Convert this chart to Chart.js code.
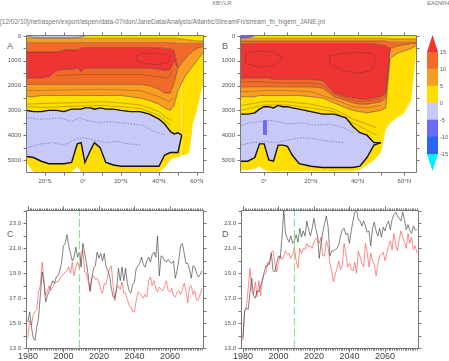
<!DOCTYPE html>
<html>
<head>
<meta charset="utf-8">
<script src="https://cdn.jsdelivr.net/npm/chart.js@4.4.0/dist/chart.umd.min.js"></script>
<style>
  html, body { margin: 0; padding: 0; background: #fff; width: 449px; height: 361px; overflow: hidden; }
  body { position: relative; font-family: 'Liberation Sans', Arial, sans-serif; }
  canvas { position: absolute; }
  .t { position: absolute; color: #777; white-space: nowrap; line-height: 1; }
  .p { position: absolute; color: #666; font-size: 9px; line-height: 1; }
</style>
</head>
<body>
<div class="t" style="left:212px;top:0px;font-size:6px">XBYLR</div>
<div class="t" style="left:427px;top:0px;font-size:6px">EADWH</div>
<div class="t" style="left:0px;top:19px;font-size:6.5px">[12/02/10]/net/aspen/export/aspen/data-07/don/JaneData/Analysis/Atlantic/StreamFn/stream_fn_higem_JANE.jnl</div>
<div class="p" style="left:7px;top:42px">A</div>
<div class="p" style="left:222px;top:42px">B</div>
<div class="p" style="left:7px;top:230px">C</div>
<div class="p" style="left:222px;top:230px">D</div>

<canvas id="chartA" width="212" height="166" style="left:0px;top:26px"></canvas>
<canvas id="chartB" width="212" height="166" style="left:212px;top:26px"></canvas>
<canvas id="colorbar" width="29" height="160" style="left:420px;top:26px"></canvas>
<canvas id="chartC" width="212" height="163" style="left:0px;top:198px"></canvas>
<canvas id="chartD" width="212" height="163" style="left:212px;top:198px"></canvas>

<script>
// ---- colour levels (Sv) ----
const levels = [-15, -10, -5, 0, 5, 10, 15];
const levelColors = ['#2b66f2', '#6a6af6', '#c9c9f9', '#ffde00', '#f99d22', '#f26a2a'];
const overColor = '#ee3533';
const underColor = '#00f0ff';

// ---- panel A: depth (m) of each contour boundary along latitude ----
const latA = [-30, -26, -22, -18, -14, -10, -6, -3, -1, 1, 4, 6, 9, 12, 16, 20, 25, 30, 35, 40, 43, 46, 48, 50, 52, 54, 56, 58, 60, 62, 64];
const surfNegA = [0, 60, 70, 70, 70, 70, 70, 60, 40, 0, 0, 0, 0, 0, 0, 0, 0, 0, 0, 0, 0, 0, 0, 0, 0, 0, 0, 0, 0, 0, 0];
const surfYelA = [90, 90, 90, 90, 90, 90, 90, 90, 90, 90, 90, 90, 90, 90, 90, 90, 90, 90, 90, 90, 90, 90, 90, 100, 120, 140, 160, 180, 200, 200, 200];
const orangeTopA = [260, 260, 260, 260, 260, 260, 260, 260, 260, 260, 260, 260, 260, 260, 260, 260, 260, 260, 260, 260, 260, 270, 280, 300, 300, 300, 300, 300, 300, 300, 300];
const redTopA = [650, 650, 650, 650, 650, 560, 560, 560, 480, 460, 460, 460, 460, 460, 460, 460, 460, 460, 460, 480, 500, 520, 600, 1300, 1100, 900, 750, 600, 500, 450, 400];
const redBotA = [1700, 1700, 1700, 1650, 1400, 1350, 1350, 1300, 1450, 1300, 1300, 1300, 1300, 1300, 1300, 1300, 1300, 1300, 1300, 1350, 1400, 1350, 1000, 1300, 1100, 900, 750, 600, 500, 450, 400];
const c10A = [1950, 1950, 1950, 1950, 1950, 1950, 1950, 1950, 1950, 1950, 1950, 1950, 1950, 1950, 1950, 1950, 1950, 1950, 2000, 2150, 2300, 2300, 1900, 1300, 1100, 900, 750, 600, 500, 450, 400];
const c5A = [2450, 2450, 2400, 2400, 2400, 2400, 2400, 2400, 2400, 2400, 2400, 2400, 2400, 2400, 2400, 2400, 2450, 2500, 2600, 2750, 2900, 3000, 2800, 2200, 1900, 1600, 1400, 1200, 1000, 800, 600];
const c0A = [3000, 3050, 3050, 3000, 3000, 3050, 2950, 2950, 2950, 2900, 2900, 2950, 2900, 2950, 2950, 3000, 3050, 3050, 3150, 3350, 3550, 3850, 3950, 3900, 4000, 4000, 4000, 3500, 3000, 2300, 1800];
const negBotA = [4850, 4900, 5050, 5150, 5150, 5150, 5100, 4350, 4300, 5100, 4600, 4300, 4500, 5100, 5200, 5250, 5250, 5250, 5250, 5250, 4800, 4700, 4700, 4700, 4000, 4000, 4000, 3500, 3000, 2300, 1800];
const floorA = [5100, 5500, 5500, 5500, 5500, 5500, 5500, 5250, 5500, 5500, 5500, 5500, 5500, 5500, 5500, 5500, 5500, 5500, 5500, 5500, 5300, 5000, 4900, 4900, 4800, 4800, 4700, 3500, 3000, 2300, 1800];
// thin interior contours (lat, depth)
const inLatA = [
  [-30, -20, -10, 0, 10, 20, 30, 35, 40, 44, 47],
  [-30, -10, 10, 30, 40, 45, 48],
  [-14, 0, 10, 20, 30, 40, 45, 47],
  [28, 32, 38, 44, 46, 44, 38, 32, 28, 28],
  [-30, -20, -10, 0, 10, 20, 30, 40, 46]
];
const inDepA = [
  [2750, 2720, 2700, 2680, 2650, 2700, 2780, 2900, 3050, 3300, 3400],
  [2200, 2180, 2150, 2200, 2450, 2650, 2500],
  [1600, 1550, 1550, 1550, 1550, 1650, 1700, 1400],
  [800, 700, 700, 750, 900, 1100, 1150, 1100, 1000, 800],
  [2850, 2880, 2850, 2820, 2800, 2850, 2920, 3200, 3600]
];
const dotLatA = [[-29, -24, -18, -12, -6, -2, 2, 8, 14, 20, 26, 32, 36, 40, 43], [-29, -22, -16, -10, -5, 0, 6, 12, 18, 24, 30]];
const dotDepA = [[3300, 3350, 3350, 3300, 3450, 3300, 3400, 3500, 3450, 3500, 3550, 3600, 3800, 3900, 4000], [4500, 4350, 4300, 4400, 4200, 4100, 4200, 4300, 4250, 4350, 4400]];

// ---- panel B ----
const latB = [-10, -7, -4, -2, 0, 2, 4, 6, 8, 10, 12, 15, 20, 25, 30, 35, 38, 41, 44, 47, 50, 52, 54, 57, 60, 63, 65];
const surfNegB = [70, 60, 0, 0, 0, 0, 0, 0, 0, 0, 0, 0, 0, 0, 0, 0, 0, 0, 0, 0, 0, 0, 0, 0, 0, 0, 0];
const surfYelB = [90, 90, 90, 90, 90, 90, 90, 90, 90, 90, 90, 90, 90, 90, 90, 90, 90, 90, 90, 90, 90, 100, 120, 120, 120, 120, 120];
const orangeTopB = [200, 200, 200, 200, 200, 200, 200, 200, 200, 200, 200, 200, 200, 200, 200, 200, 200, 200, 200, 200, 200, 200, 250, 250, 250, 250, 250];
const redTopB = [320, 300, 300, 300, 300, 300, 300, 300, 300, 300, 300, 300, 300, 300, 300, 300, 300, 300, 300, 320, 350, 400, 500, 400, 350, 300, 300];
const redBotB = [1700, 1700, 1700, 1700, 1700, 1700, 1750, 1750, 1750, 1750, 1750, 1750, 1750, 1800, 2300, 2450, 2500, 2550, 2550, 2500, 2450, 2300, 500, 400, 350, 300, 300];
const c10B = [2050, 2050, 2050, 2050, 2050, 2050, 2050, 2050, 2050, 2050, 2050, 2050, 2050, 2100, 2450, 2600, 2700, 2750, 2750, 2700, 2650, 2500, 500, 400, 350, 300, 300];
const c5B = [2450, 2450, 2450, 2400, 2400, 2400, 2400, 2400, 2400, 2400, 2400, 2400, 2450, 2500, 2700, 2900, 3000, 3050, 3100, 3050, 3000, 2900, 900, 700, 600, 500, 400];
const c0B = [3150, 3150, 3100, 2950, 2850, 2850, 2900, 2800, 2850, 2850, 2900, 2950, 3050, 3150, 3150, 3300, 3650, 3900, 4000, 4300, 4300, 3700, 3400, 3200, 3000, 2500, 700];
const negBotB = [5050, 5050, 4900, 4350, 4350, 5000, 5050, 4400, 4400, 4450, 4800, 5150, 5250, 5300, 5300, 5300, 5300, 5250, 4900, 4400, 4300, 3700, 3400, 3200, 3000, 2500, 700];
const floorB = [5400, 5400, 5350, 5250, 5400, 5450, 5450, 5450, 5450, 5450, 5450, 5450, 5450, 5450, 5450, 5450, 5450, 5400, 5200, 5000, 4700, 3800, 3500, 3300, 3100, 2600, 700];
const inLatB = [
  [-10, 0, 10, 20, 30, 38, 44, 48],
  [-10, 0, 10, 20, 30, 38, 44, 50],
  [-10, 0, 10, 20, 25, 30, 40, 50],
  [-8, -2, 4, 8, 4, -2, -8, -8],
  [28, 34, 40, 46, 48, 46, 40, 34, 28, 28],
  [-10, 0, 10, 20, 30, 38, 44, 48]
];
const inDepB = [
  [2800, 2650, 2650, 2750, 2950, 3350, 3550, 3700],
  [2250, 2200, 2200, 2250, 2550, 2850, 2900, 2800],
  [1850, 1850, 1900, 1900, 1950, 2350, 2650, 2550],
  [700, 600, 650, 900, 1200, 1250, 1100, 700],
  [800, 700, 650, 700, 1000, 1400, 1500, 1400, 1100, 800],
  [3000, 2780, 2780, 2900, 3050, 3500, 3800, 4000]
];
const dotLatB = [[-10, -6, -2, 2, 6, 10, 16, 22, 28, 34, 38], [-10, -5, 0, 5, 10, 16, 22, 28, 34]];
const dotDepB = [[3600, 3500, 3450, 3400, 3450, 3550, 3500, 3600, 3550, 3700, 3900], [4400, 4300, 4250, 4300, 4200, 4100, 4150, 4250, 4300]];
const blueLatB = [-0.5, 1.2];
const blueTopB = [3400, 3400];
const blueBotB = [3990, 3990];

// ---- panels C and D: yearly series ----
const years = Array.from({ length: 99 }, (_, i) => 1980 + i);
const markYear = 2009;
const blackC = [
  15.1, 15.9, 14.7, 13.8, 13.6, 14.7, 15.4, 17.2, 19.1, 18.2,
  16.7, 17.2, 17.6, 18.0, 18.4, 18.2, 18.7, 18.8, 19.2, 19.9,
  21.2, 21.4, 22.1, 21.2, 20.6, 20.0, 20.3, 21.1, 20.3, 20.7,
  19.5, 21.4, 20.6, 19.8, 18.8, 17.6, 18.6, 19.4, 19.6, 20.7,
  20.2, 20.6, 20.0, 20.6, 19.5, 19.2, 18.8, 17.8, 17.1, 17.0,
  17.8, 19.4, 18.4, 19.5, 18.4, 19.4, 18.2, 17.6, 17.4, 18.1,
  18.3, 19.4, 19.6, 19.8, 20.3, 19.7, 19.5, 20.0, 20.3, 19.9,
  20.5, 20.7, 20.3, 22.0, 18.8, 20.4, 20.3, 20.0, 19.9, 20.1,
  19.9, 19.8, 20.0, 18.6, 19.2, 20.1, 21.2, 21.4, 20.6, 19.8,
  19.8, 19.3, 18.6, 19.6, 19.5, 19.0, 18.7, 18.9, 19.2
];
const redC = [
  13.8, 15.2, 14.8, 15.7, 15.9, 16.1, 17.5, 18.0, 19.9, 18.6,
  17.2, 17.6, 18.0, 17.6, 17.9, 18.2, 18.3, 18.3, 18.6, 18.8,
  18.9, 19.1, 19.2, 19.5, 19.0, 19.9, 18.8, 19.5, 19.9, 19.3,
  20.7, 20.8, 19.1, 19.0, 18.3, 17.5, 18.6, 18.8, 18.5, 18.6,
  18.3, 17.7, 17.4, 18.2, 18.1, 18.8, 19.4, 19.6, 18.0, 16.8,
  17.8, 18.0, 17.7, 18.3, 17.4, 17.4, 16.9, 16.4, 16.3, 15.9,
  15.9, 16.8, 17.5, 17.4, 17.2, 17.0, 17.3, 17.1, 18.4, 18.7,
  18.0, 18.4, 17.8, 17.5, 17.9, 17.7, 17.6, 18.0, 18.4, 17.6,
  17.5, 17.8, 17.2, 17.1, 17.5, 17.6, 17.3, 17.7, 18.2, 17.6,
  16.6, 17.9, 18.0, 17.3, 17.6, 16.8, 16.9, 17.3, 17.8
];
const blackD = [
  13.8, 16.0, 16.2, 16.1, 17.5, 18.6, 17.2, 17.0, 17.6, 17.5,
  18.0, 18.4, 19.1, 19.6, 19.6, 19.9, 20.6, 19.2, 19.1, 19.8,
  20.4, 20.2, 21.8, 24.1, 22.2, 21.8, 21.5, 22.0, 21.4, 21.6,
  22.1, 21.5, 22.6, 21.9, 22.4, 22.0, 23.2, 22.5, 22.0, 22.6,
  23.4, 22.6, 22.0, 20.2, 21.4, 22.3, 23.0, 23.6, 22.7, 20.4,
  20.8, 20.8, 20.9, 21.0, 21.3, 22.0, 22.5, 22.6, 22.1, 22.2,
  21.4, 22.4, 23.2, 23.9, 24.1, 23.3, 23.2, 22.8, 23.2, 22.8,
  22.3, 22.4, 21.2, 22.6, 23.1, 22.4, 22.0, 22.6, 21.9, 22.7,
  22.4, 22.9, 23.2, 22.5, 23.3, 23.7, 23.9, 23.6, 23.4, 23.2,
  23.9, 23.3, 22.5, 22.9, 22.4, 22.2, 22.8, 22.5, 22.5
];
const redD = [
  13.6, 16.0, 16.3, 17.8, 19.4, 17.6, 17.3, 18.3, 17.1, 18.4,
  17.2, 18.6, 18.9, 19.0, 19.9, 19.7, 20.7, 20.8, 19.8, 19.1,
  19.8, 20.4, 20.1, 20.4, 20.8, 20.5, 20.6, 20.2, 20.5, 21.1,
  20.0, 19.4, 21.0, 20.6, 21.0, 20.9, 21.4, 21.1, 21.2, 21.0,
  21.5, 21.8, 21.7, 21.4, 21.9, 20.4, 20.4, 21.6, 21.1, 19.8,
  19.2, 18.3, 18.9, 19.4, 20.0, 19.3, 19.7, 21.4, 20.6, 19.5,
  19.8, 19.3, 19.2, 19.9, 19.0, 20.8, 20.3, 19.8, 19.5, 21.4,
  20.7, 19.5, 20.6, 20.0, 19.7, 18.8, 19.7, 20.4, 20.5, 20.7,
  20.0, 20.6, 21.1, 21.6, 20.9, 22.2, 21.3, 20.8, 21.7, 22.4,
  21.9, 21.5, 21.0, 22.2, 21.4, 21.9, 20.9, 21.2, 20.6
];
const yTicksCD = [13, 15, 17, 19, 21, 23];
const xTicksCD = [1980, 2000, 2020, 2040, 2060];
const depthTicks = [0, 1000, 2000, 3000, 4000, 5000];

const FONT = "'Liberation Sans', Arial, sans-serif";
const LINE = 'rgba(85,50,25,0.7)';

function tickValues(scale, t) {
  const out = [];
  const n0 = Math.ceil((scale.min - t.base) / t.step);
  const n1 = Math.floor((scale.max - t.base) / t.step);
  for (let n = n0; n <= n1; n++) out.push(t.base + n * t.step);
  return out;
}

// frame box and outward tick marks drawn from the chart's scales
const frameTicks = {
  id: 'frameTicks',
  afterDatasetsDraw(chart, args, o) {
    const { ctx, chartArea: a } = chart;
    const xs = chart.scales.x, ys = chart.scales.y;
    const L = Math.round(a.left) - 0.5, R = Math.round(a.right) + 0.5;
    const T = Math.round(a.top) - 0.5, B = Math.round(a.bottom) + 0.5;
    ctx.save();
    ctx.strokeStyle = o.color || '#777';
    ctx.lineWidth = 1;
    ctx.beginPath();
    ctx.rect(L, T, R - L, B - T);
    (o.x || []).forEach(t => {
      tickValues(xs, t).forEach(v => {
        const p = Math.round(xs.getPixelForValue(v)) + 0.5;
        ctx.moveTo(p, T); ctx.lineTo(p, T - t.len);
        ctx.moveTo(p, B); ctx.lineTo(p, B + t.len);
      });
    });
    (o.y || []).forEach(t => {
      tickValues(ys, t).forEach(v => {
        const p = Math.round(ys.getPixelForValue(v)) + 0.5;
        ctx.moveTo(L, p); ctx.lineTo(L - t.len, p);
        ctx.moveTo(R, p); ctx.lineTo(R + t.len, p);
      });
    });
    ctx.stroke();
    ctx.restore();
  }
};

function latLabel(v) {
  if (v === 0) return '0°';
  return v < 0 ? (-v) + '°S' : v + '°N';
}

function flat(a, b, i) { return a[i] === b[i]; }

function contourChart(id, lats, bounds, extras, xmin, xmax, xTicks, yWidth, padRight) {
  const datasets = bounds.map((b, k) => ({
    data: lats.map((x, i) => ({ x, y: b.vals[i] })),
    fill: k === 0 ? false : '-1',
    backgroundColor: b.fill || 'transparent',
    borderColor: b.line || 'transparent',
    borderWidth: b.width || 0,
    pointRadius: 0,
    tension: 0,
    segment: {
      borderColor: ctx => {
        const i0 = ctx.p0DataIndex, i1 = ctx.p1DataIndex;
        const above = k > 0 && flat(b.vals, bounds[k - 1].vals, i0) && flat(b.vals, bounds[k - 1].vals, i1);
        const below = b.hideFlatBelow && flat(b.vals, bounds[k + 1].vals, i0) && flat(b.vals, bounds[k + 1].vals, i1);
        return (above || below) ? 'rgba(0,0,0,0)' : undefined;
      }
    }
  }));
  // extra contour lines are drawn on top of the filled bands
  extras.forEach(e => datasets.push(Object.assign({ pointRadius: 0, tension: 0, fill: false, order: -1 }, e)));
  return new Chart(document.getElementById(id), {
    type: 'line',
    data: { datasets },
    options: {
      responsive: false,
      animation: false,
      devicePixelRatio: 1,
      layout: { padding: { top: 10, right: padRight, left: 0, bottom: 0 } },
      plugins: {
        legend: { display: false },
        tooltip: { enabled: false },
        frameTicks: { color: '#777', x: [{ step: 10, base: 0, len: 3 }], y: [{ step: 500, base: 0, len: 3 }] }
      },
      scales: {
        x: {
          type: 'linear', min: xmin, max: xmax,
          grid: { display: false, drawTicks: false }, border: { display: false },
          afterBuildTicks: s => { s.ticks = xTicks.map(v => ({ value: v })); },
          afterFit: s => { s.height = 20; },
          ticks: { padding: 6, autoSkip: false, maxRotation: 0, color: '#555', font: { size: 6, family: FONT }, callback: v => latLabel(v) }
        },
        y: {
          type: 'linear', reverse: true, min: 0, max: 5484,
          grid: { display: false, drawTicks: false }, border: { display: false },
          afterBuildTicks: s => { s.ticks = depthTicks.map(v => ({ value: v })); },
          afterFit: s => { s.width = yWidth; },
          ticks: { padding: 6, autoSkip: false, color: '#555', font: { size: 6, family: FONT }, callback: v => String(v) }
        }
      }
    },
    plugins: [frameTicks]
  });
}

function bandSet(surfNeg, surfYel, orangeTop, redTop, redBot, c10, c5, c0, negBot, floor, surfColor) {
  return [
    { vals: surfNeg.map(() => 0) },
    { vals: surfNeg, fill: surfColor, line: 'rgba(50,50,90,0.8)', width: 0.7 },
    { vals: surfYel, fill: levelColors[3], line: LINE, width: 0.6 },
    { vals: orangeTop, fill: levelColors[4], line: LINE, width: 0.6 },
    { vals: redTop, fill: levelColors[5], line: LINE, width: 0.7 },
    { vals: redBot, fill: overColor, line: LINE, width: 0.7 },
    { vals: c10, fill: levelColors[5], line: LINE, width: 0.7 },
    { vals: c5, fill: levelColors[4], line: LINE, width: 0.7 },
    { vals: c0, fill: levelColors[3], line: '#111', width: 1.4, hideFlatBelow: true },
    { vals: negBot, fill: levelColors[2], line: '#111', width: 1.4 },
    { vals: floor, fill: levelColors[3] }
  ];
}

function thin(lats, deps) {
  return { data: lats.map((x, i) => ({ x, y: deps[i] })), borderColor: 'rgba(85,50,25,0.55)', borderWidth: 0.6 };
}
function dotted(lats, deps) {
  return { data: lats.map((x, i) => ({ x, y: deps[i] })), borderColor: 'rgba(95,95,140,0.85)', borderWidth: 0.7, borderDash: [1.5, 1.5] };
}

contourChart('chartA', latA,
  bandSet(surfNegA, surfYelA, orangeTopA, redTopA, redBotA, c10A, c5A, c0A, negBotA, floorA, levelColors[2]),
  inLatA.map((l, i) => thin(l, inDepA[i])).concat(dotLatA.map((l, i) => dotted(l, dotDepA[i]))),
  -29.5, 63.2, [-20, 0, 20, 40, 60], 27, 9);

const blueExtras = [
  { data: blueLatB.map((x, i) => ({ x, y: blueTopB[i] })), borderWidth: 0 },
  { data: blueLatB.map((x, i) => ({ x, y: blueBotB[i] })), borderWidth: 0, fill: '-1', backgroundColor: levelColors[1] }
];
contourChart('chartB', latB,
  bandSet(surfNegB, surfYelB, orangeTopB, redTopB, redBotB, c10B, c5B, c0B, negBotB, floorB, levelColors[1]),
  inLatB.map((l, i) => thin(l, inDepB[i])).concat(dotLatB.map((l, i) => dotted(l, dotDepB[i]))).concat(blueExtras),
  -9.9, 65, [0, 20, 40, 60], 29, 8);

// ---- colour bar ----
const arrowPlugin = {
  id: 'arrows',
  afterDatasetsDraw(chart) {
    const { ctx, chartArea: a } = chart;
    const ys = chart.scales.y;
    const mid = (a.left + a.right) / 2;
    ctx.save();
    ctx.fillStyle = overColor;
    ctx.beginPath();
    ctx.moveTo(a.left, ys.getPixelForValue(15));
    ctx.lineTo(a.right, ys.getPixelForValue(15));
    ctx.lineTo(mid, ys.getPixelForValue(20));
    ctx.closePath(); ctx.fill();
    ctx.fillStyle = underColor;
    ctx.beginPath();
    ctx.moveTo(a.left, ys.getPixelForValue(-15));
    ctx.lineTo(a.right, ys.getPixelForValue(-15));
    ctx.lineTo(mid, ys.getPixelForValue(-20));
    ctx.closePath(); ctx.fill();
    ctx.restore();
  }
};
new Chart(document.getElementById('colorbar'), {
  type: 'bar',
  data: {
    labels: [''],
    datasets: levelColors.map((c, i) => ({
      data: [[levels[i], levels[i + 1]]], backgroundColor: c, borderWidth: 0,
      barPercentage: 1, categoryPercentage: 1
    }))
  },
  options: {
    responsive: false, animation: false, devicePixelRatio: 1,
    layout: { padding: { top: 9, bottom: 15, left: 7, right: 0 } },
    plugins: { legend: { display: false }, tooltip: { enabled: false } },
    scales: {
      x: { stacked: true, display: false },
      y: {
        min: -20, max: 20, position: 'right',
        grid: { display: false, drawTicks: false }, border: { display: false },
        afterBuildTicks: s => { s.ticks = levels.map(v => ({ value: v })); },
        afterFit: s => { s.width = 11; },
        ticks: { padding: 2, color: '#555', font: { size: 5.5, family: FONT } }
      }
    }
  },
  plugins: [arrowPlugin]
});

// ---- time series ----
function seriesChart(id, black, red, yWidth, padRight) {
  return new Chart(document.getElementById(id), {
    type: 'line',
    data: {
      datasets: [
        { data: [{ x: markYear, y: 13 }, { x: markYear, y: 24 }], borderColor: '#86dd86', borderWidth: 1, borderDash: [8, 3], pointRadius: 0 },
        { data: years.map((x, i) => ({ x, y: black[i] })), borderColor: 'rgba(70,70,70,0.85)', borderWidth: 0.8, pointRadius: 0, tension: 0 },
        { data: years.map((x, i) => ({ x, y: red[i] })), borderColor: 'rgba(255,85,85,0.85)', borderWidth: 0.8, pointRadius: 0, tension: 0 }
      ]
    },
    options: {
      responsive: false, animation: false, devicePixelRatio: 1,
      layout: { padding: { top: 13, right: padRight, left: 0, bottom: 0 } },
      plugins: {
        legend: { display: false }, tooltip: { enabled: false },
        frameTicks: {
          color: '#777',
          x: [{ step: 1, base: 1980, len: 2 }, { step: 20, base: 1980, len: 4 }],
          y: [{ step: 1, base: 13, len: 3 }]
        }
      },
      scales: {
        x: {
          type: 'linear', min: 1979.5, max: 2078.6,
          grid: { display: false, drawTicks: false }, border: { display: false },
          afterBuildTicks: s => { s.ticks = xTicksCD.map(v => ({ value: v })); },
          afterFit: s => { s.height = 13; },
          ticks: { padding: 3, autoSkip: false, maxRotation: 0, color: '#444', font: { size: 9, family: FONT }, callback: v => String(v) }
        },
        y: {
          type: 'linear', min: 13, max: 24,
          grid: { display: false, drawTicks: false }, border: { display: false },
          afterBuildTicks: s => { s.ticks = yTicksCD.map(v => ({ value: v })); },
          afterFit: s => { s.width = yWidth; },
          ticks: { padding: 6, autoSkip: false, color: '#555', font: { size: 6, family: FONT }, callback: v => v.toFixed(1) }
        }
      }
    },
    plugins: [frameTicks]
  });
}
seriesChart('chartC', blackC, redC, 27, 9);
seriesChart('chartD', blackD, redD, 30, 6);
</script>
</body>
</html>
